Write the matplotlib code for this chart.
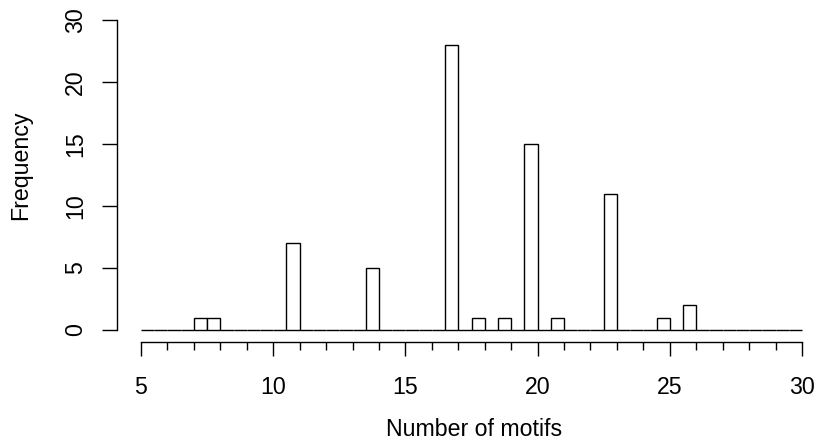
import numpy as np
import matplotlib
matplotlib.use('Agg')
import matplotlib.pyplot as plt

plt.rcParams['font.family'] = ['Liberation Sans', 'DejaVu Sans']

# histogram of motif counts, bins of width 0.5 from 5 to 30
bin_edges = np.arange(5.0, 30.5, 0.5)
counts = [0, 0, 0, 0, 1, 1, 0, 0, 0, 0,
          0, 7, 0, 0, 0, 0, 0, 5, 0, 0,
          0, 0, 0, 23, 0, 1, 0, 1, 0, 15,
          0, 1, 0, 0, 0, 11, 0, 0, 0, 1,
          0, 2, 0, 0, 0, 0, 0, 0, 0, 0]
x_ticks = [5, 10, 15, 20, 25, 30]
y_ticks = [0, 5, 10, 15, 20, 25]
y_labels = ['0', '5', '10', '15', '20', '30']

fs = 16.7
lw = 1.0

fig = plt.figure(figsize=(8.19, 4.44), dpi=100)
ax = fig.add_axes([141/819, 114/444, 661/819, 310/444])

ax.bar(bin_edges[:-1], counts, width=np.diff(bin_edges), align='edge',
       color='white', edgecolor='black', linewidth=lw, clip_on=False)

ax.set_xlim(5, 30)
ax.set_ylim(0, 25)

for s in ['top', 'right']:
    ax.spines[s].set_visible(False)
ax.spines['left'].set_position(('outward', 17.5))
ax.spines['bottom'].set_position(('outward', 8.4))
ax.spines['left'].set_bounds(0, 25)
ax.spines['bottom'].set_bounds(5, 30)
for s in ['left', 'bottom']:
    ax.spines[s].set_linewidth(lw)

ax.set_xticks(x_ticks, [str(t) for t in x_ticks], fontsize=fs)
ax.set_xticks(np.arange(5, 31, 1), minor=True)
ax.set_yticks(y_ticks, y_labels, fontsize=fs, rotation=90, va='center')

ax.tick_params(axis='x', which='major', length=10.3, width=lw, pad=14.5)
ax.tick_params(axis='x', which='minor', length=5.5, width=lw)
ax.tick_params(axis='y', which='major', length=10.8, width=lw, pad=10.5)

ax.set_xlabel('Number of motifs', fontsize=fs, ha='center', va='baseline')
ax.xaxis.set_label_coords(0.504, (330 - 435.7) / 310)
ax.set_ylabel('Frequency', fontsize=fs, ha='center', va='center')
ax.yaxis.set_label_coords((20.5 - 141) / 661, (330 - 165) / 310)

fig.savefig('out.png', dpi=100)
